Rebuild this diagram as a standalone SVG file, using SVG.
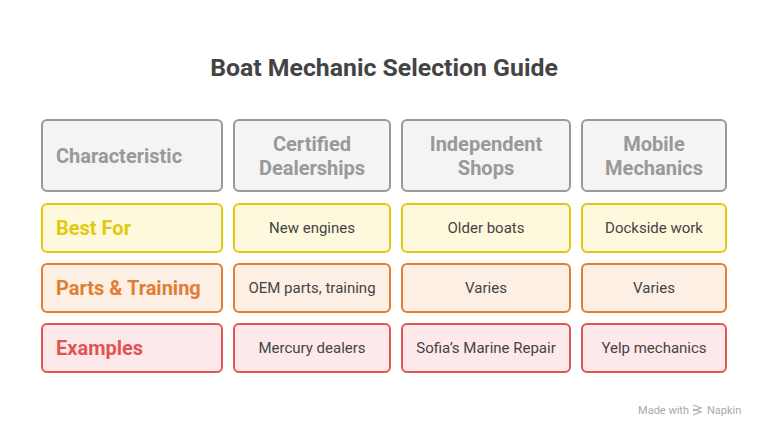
<svg xmlns="http://www.w3.org/2000/svg" width="768" height="438" viewBox="0 0 768 438">
<style>
text{font-family:Roboto,"Liberation Sans",sans-serif}
.h rect{fill:#f4f4f4;stroke:#999;stroke-width:2}
.h text{fill:#999;font-size:20px;font-weight:bold;text-anchor:middle}
.y rect{fill:#fef9dc;stroke:#e2c90f;stroke-width:2}
.o rect{fill:#fdefe4;stroke:#e07f34;stroke-width:2}
.r rect{fill:#fde9e9;stroke:#e25454;stroke-width:2}
.lab{font-size:20px;font-weight:bold}
.y .lab{fill:#e2c90f}.o .lab{fill:#e07f34}.r .lab{fill:#e25454}
.c{fill:#444;font-size:15px;text-anchor:middle}
</style>
<rect width="768" height="438" fill="#fff"/>
<text x="384" y="76" text-anchor="middle" font-size="24.8" font-weight="bold" fill="#444">Boat Mechanic Selection Guide</text>
<g class="h">
<g id="h1"><rect x="42" y="120" width="180" height="71" rx="5"/><text x="56" y="163" style="text-anchor:start">Characteristic</text></g>
<g id="h2"><rect x="234" y="120" width="156" height="71" rx="5"/><text x="312" y="151">Certified</text><text x="312" y="175">Dealerships</text></g>
<g id="h3"><rect x="402" y="120" width="168" height="71" rx="5"/><text x="486" y="151">Independent</text><text x="486" y="175">Shops</text></g>
<g id="h4"><rect x="582" y="120" width="144" height="71" rx="5"/><text x="654" y="151">Mobile</text><text x="654" y="175">Mechanics</text></g>
</g>
<g class="y">
<g id="r1a"><rect x="42" y="204" width="180" height="48" rx="5"/><text class="lab" x="56" y="235">Best For</text></g>
<g id="r1b"><rect x="234" y="204" width="156" height="48" rx="5"/><text class="c" x="312" y="233">New engines</text></g>
<g id="r1c"><rect x="402" y="204" width="168" height="48" rx="5"/><text class="c" x="486" y="233">Older boats</text></g>
<g id="r1d"><rect x="582" y="204" width="144" height="48" rx="5"/><text class="c" x="654" y="233">Dockside work</text></g>
</g>
<g class="o">
<g id="r2a"><rect x="42" y="264" width="180" height="48" rx="5"/><text class="lab" x="56" y="295">Parts &amp; Training</text></g>
<g id="r2b"><rect x="234" y="264" width="156" height="48" rx="5"/><text class="c" x="312" y="293">OEM parts, training</text></g>
<g id="r2c"><rect x="402" y="264" width="168" height="48" rx="5"/><text class="c" x="486" y="293">Varies</text></g>
<g id="r2d"><rect x="582" y="264" width="144" height="48" rx="5"/><text class="c" x="654" y="293">Varies</text></g>
</g>
<g class="r">
<g id="r3a"><rect x="42" y="324" width="180" height="48" rx="5"/><text class="lab" x="56" y="355">Examples</text></g>
<g id="r3b"><rect x="234" y="324" width="156" height="48" rx="5"/><text class="c" x="312" y="353">Mercury dealers</text></g>
<g id="r3c"><rect x="402" y="324" width="168" height="48" rx="5"/><text class="c" x="486" y="353">Sofia’s Marine Repair</text></g>
<g id="r3d"><rect x="582" y="324" width="144" height="48" rx="5"/><text class="c" x="654" y="353">Yelp mechanics</text></g>
</g>
<g id="connectors"/>
<text x="689" y="414" text-anchor="end" font-size="11" fill="#aaa">Made with</text>
<text x="707" y="414" font-size="11" fill="#aaa">Napkin</text>
<path d="M693 405l8 3-8 3M693 409l8 3-8 3" fill="none" stroke="#aaa" stroke-width="1.2"/>
</svg>
